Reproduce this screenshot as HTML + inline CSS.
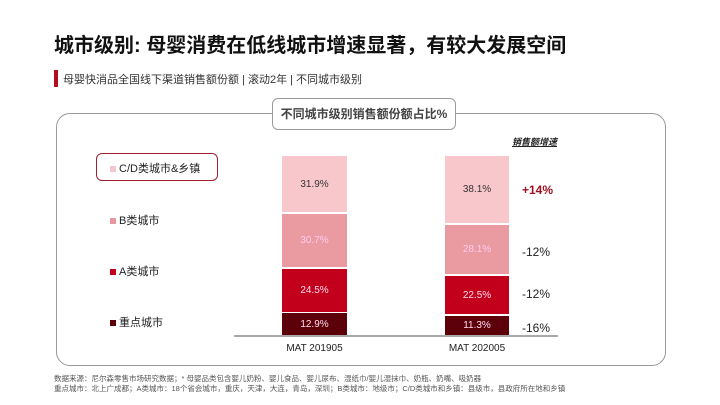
<!DOCTYPE html>
<html><head><meta charset="utf-8"><style>
body{margin:0;width:720px;height:405px;background:#fff;position:relative;overflow:hidden;font-family:"Liberation Sans","Noto Sans CJK SC",sans-serif;color:#222}
.a{position:absolute;white-space:nowrap}
.bar{position:absolute;display:flex;align-items:center;justify-content:center;font-size:10px}
.sq{display:inline-block;width:6px;height:6px;margin-right:3px;vertical-align:middle}
</style></head><body>
<div class="a" style="left:54px;top:29px;font-size:20px;font-weight:bold;color:#111">城市级别: 母婴消费在低线城市增速显著，有较大发展空间</div>
<div class="a" style="left:54px;top:70px;width:4px;height:17px;background:#b01020"></div>
<div class="a" style="left:63px;top:71px;font-size:11px;color:#333">母婴快消品全国线下渠道销售额份额 | 滚动2年 | 不同城市级别</div>
<div class="a" style="left:56px;top:113px;width:608px;height:251px;border:1px solid #999;border-radius:14px"></div>
<div class="a" style="left:272px;top:98px;width:182px;height:30px;border:1px solid #999;border-radius:6px;background:#fff;font-size:12px;font-weight:bold;color:#444;text-align:center;line-height:30px">不同城市级别销售额份额占比%</div>
<div class="a" style="left:96px;top:153px;width:120px;height:26px;border:1px solid #a02030;border-radius:6px"></div>
<div class="a" style="left:110px;top:160px;font-size:11px"><span class="sq" style="background:#f5c6cb"></span>C/D类城市&amp;乡镇</div>
<div class="a" style="left:110px;top:212px;font-size:11px"><span class="sq" style="background:#e7979e"></span>B类城市</div>
<div class="a" style="left:110px;top:263px;font-size:11px"><span class="sq" style="background:#c00018"></span>A类城市</div>
<div class="a" style="left:110px;top:314px;font-size:11px"><span class="sq" style="background:#5a0008"></span>重点城市</div>
<div class="bar" style="left:282px;top:156px;width:65px;height:56px;background:#f8c7cb;color:#333">31.9%</div>
<div class="bar" style="left:282px;top:214px;width:65px;height:53px;background:#ea9aa1;color:#fce">30.7%</div>
<div class="bar" style="left:282px;top:269px;width:65px;height:43px;background:#c3001c;color:#fde">24.5%</div>
<div class="bar" style="left:282px;top:313px;width:65px;height:22px;background:#5c000a;color:#fde">12.9%</div>
<div class="bar" style="left:445px;top:156px;width:64px;height:67px;background:#f8c7cb;color:#333">38.1%</div>
<div class="bar" style="left:445px;top:225px;width:64px;height:49px;background:#ea9aa1;color:#fce">28.1%</div>
<div class="bar" style="left:445px;top:276px;width:64px;height:38px;background:#c3001c;color:#fde">22.5%</div>
<div class="bar" style="left:445px;top:316px;width:64px;height:19px;background:#5c000a;color:#fde">11.3%</div>
<div class="a" style="left:234px;top:335px;width:324px;height:2px;background:#aaa"></div>
<div class="a" style="left:282px;top:343px;width:65px;text-align:center;font-size:10px">MAT 201905</div>
<div class="a" style="left:445px;top:343px;width:64px;text-align:center;font-size:10px">MAT 202005</div>
<div class="a" style="left:512px;top:135px;font-size:9px;font-style:italic;font-weight:bold;text-decoration:underline">销售额增速</div>
<div class="a" style="left:522px;top:183px;font-size:12px;font-weight:bold;color:#a01020">+14%</div>
<div class="a" style="left:522px;top:245px;font-size:12px">-12%</div>
<div class="a" style="left:522px;top:287px;font-size:12px">-12%</div>
<div class="a" style="left:522px;top:321px;font-size:12px">-16%</div>
<div class="a" style="left:54px;top:374px;font-size:7.5px;color:#555;line-height:10px">数据来源：尼尔森零售市场研究数据；* 母婴品类包含婴儿奶粉、婴儿食品、婴儿尿布、湿纸巾/婴儿湿抹巾、奶瓶、奶嘴、吸奶器<br>重点城市：北上广成都；A类城市：18个省会城市，重庆，天津，大连，青岛，深圳；B类城市：地级市；C/D类城市和乡镇：县级市，县政府所在地和乡镇</div>
</body></html>
